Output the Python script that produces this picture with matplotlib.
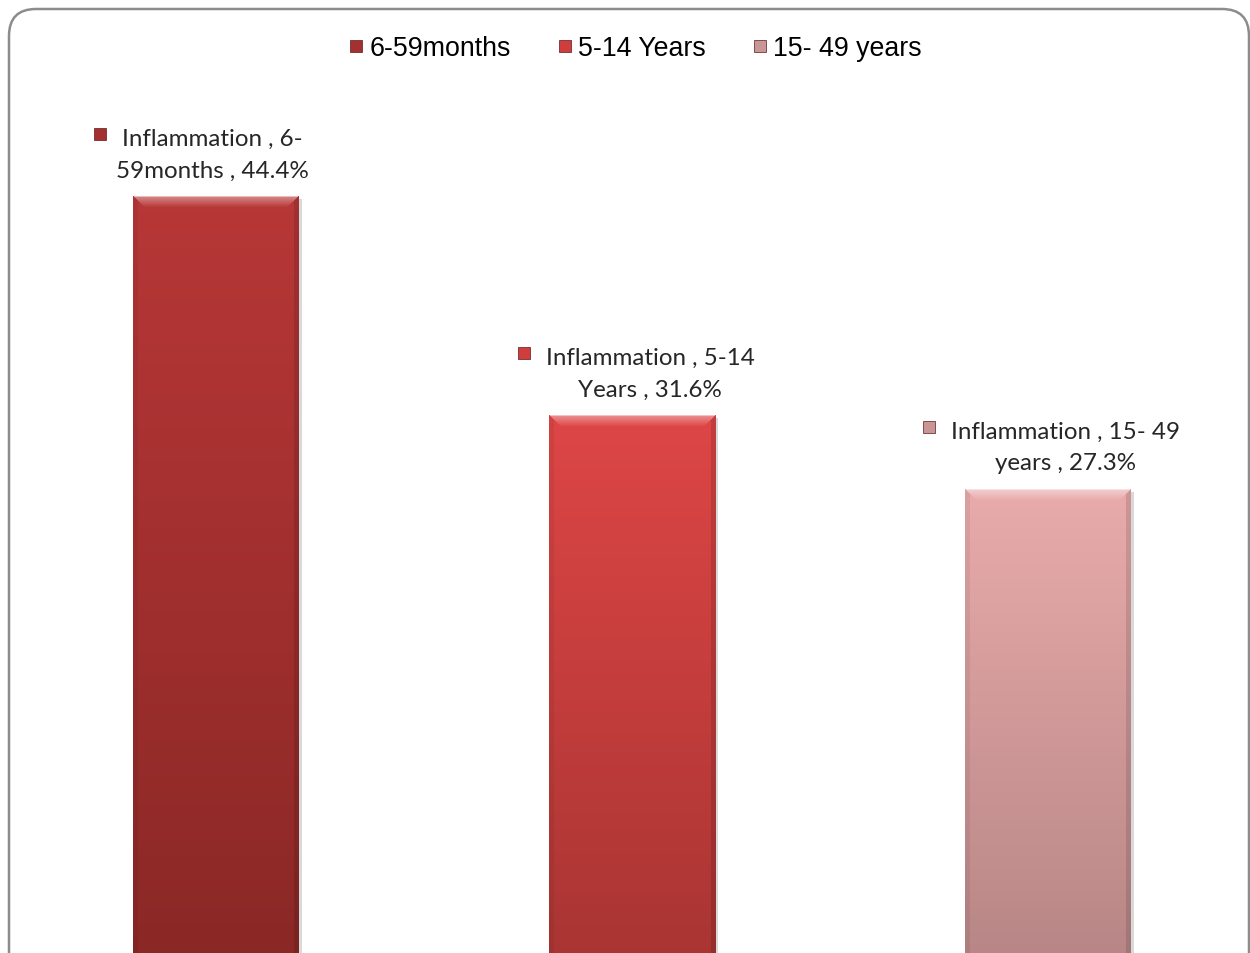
import numpy as np
import matplotlib.pyplot as plt
from matplotlib.patches import FancyBboxPatch, Rectangle
from matplotlib.lines import Line2D
from matplotlib.colors import to_rgb
import matplotlib.transforms as mtransforms

# data
groups = ["6-59months", "5-14 Years", "15- 49 years"]
values = [44.4, 31.6, 27.3]
label_line1 = ["Inflammation , 6-", "Inflammation , 5-14", "Inflammation , 15- 49"]
label_line2 = ["59months , 44.4%", "Years , 31.6%", "years , 27.3%"]

top_colors = ["#b83737", "#de4646", "#e9abab"]
bottom_colors = ["#8a2826", "#a93533", "#b88686"]
marker_colors = ["#a53030", "#cf3d3d", "#c99696"]
label_dx = [-4, 18, 17]   # label shift in pixels, like excel puts them

W, H = 1250, 954
px_per_unit_x = 416.0
px_per_unit_y = 17.13
base_px = 958.5

fig = plt.figure(figsize=(W / 100, H / 100), dpi=100)
fig.patch.set_facecolor("white")
ax = fig.add_axes([0, (H - base_px) / H, 1, base_px / H])
ax.axis("off")

x = np.arange(len(values))
bars = ax.bar(x, values, width=166 / px_per_unit_x, color=top_colors, zorder=3)


def bar_image(top, bottom, rows, cols):
    top = np.array(to_rgb(top))
    bottom = np.array(to_rgb(bottom))
    t = np.linspace(0, 1, rows)[:, None, None]
    img = top * (1 - t) + bottom * t
    img = np.repeat(img, cols, axis=1)
    r = np.arange(rows)[:, None]
    c = np.arange(cols)[None, :]
    # bevel on top
    band = 11
    f = np.clip(1 - r / band, 0, 1)
    f = np.where((r < band) & (c > r) & (cols - 1 - c > r), f, 0)
    img = img + (1 - img) * (0.4 * f)[:, :, None]
    # slightly darker sides
    side = 5
    left = (c < side) & (r > c)
    right = (cols - 1 - c < side) & (r > cols - 1 - c)
    img[np.broadcast_to(left, (rows, cols))] *= 0.94
    img[np.broadcast_to(right, (rows, cols))] *= 0.88
    img[0, 1:-1] = img[0, 1:-1] * 0.55 + 0.45
    return np.clip(img, 0, 1)


for i, b in enumerate(bars):
    bx, by = b.get_x(), b.get_y()
    bw, bh = b.get_width(), b.get_height()
    rows = int(bh * px_per_unit_y)
    img = bar_image(top_colors[i], bottom_colors[i], rows, 166)
    ax.imshow(img, extent=[bx, bx + bw, by, by + bh], origin="upper",
              aspect="auto", interpolation="bilinear", zorder=4)
    # soft shadow
    ax.add_patch(Rectangle((bx + 3 / px_per_unit_x, by), bw, bh - 2 / px_per_unit_y,
                           color="#a0a0a0", alpha=0.4, lw=0, zorder=2))

ax.set_xlim(-216 / px_per_unit_x, (W - 216) / px_per_unit_x)
ax.set_ylim(0, base_px / px_per_unit_y)

lab_font = dict(family="Lato", size=17.4, color="#262626")
first_lines = []
for i, v in enumerate(values):
    tr2 = mtransforms.offset_copy(ax.transData, fig=fig, x=label_dx[i], y=27, units="dots")
    tr1 = mtransforms.offset_copy(ax.transData, fig=fig, x=label_dx[i], y=59, units="dots")
    ax.text(i, v, label_line2[i], transform=tr2, ha="center", va="center", **lab_font)
    t1 = ax.text(i, v, label_line1[i], transform=tr1, ha="center", va="center", **lab_font)
    first_lines.append(t1)

fig.canvas.draw()
inv = fig.transFigure.inverted()
for i, t1 in enumerate(first_lines):
    ext = t1.get_window_extent()
    mx, my = inv.transform((ext.x0 - 22, (ext.y0 + ext.y1) / 2 + 4))
    fig.add_artist(Line2D([mx], [my], marker="s", markersize=9, linestyle="none",
                          markerfacecolor=marker_colors[i], markeredgecolor="#5a1a1a",
                          markeredgewidth=0.5, transform=fig.transFigure))

handles = [Line2D([], [], marker="s", linestyle="none", markersize=9,
                  markerfacecolor=c, markeredgecolor="#5a1a1a", markeredgewidth=0.5)
           for c in marker_colors]
fig.legend(handles, groups, loc="center", bbox_to_anchor=(0.508, 1 - 49 / H), ncol=3,
           frameon=False, prop={"family": "Liberation Sans", "size": 19.3},
           handlelength=0.6, handletextpad=0.2, columnspacing=1.7)

# rounded chart border
frame = FancyBboxPatch((0.09, -1.0), 12.49 - 0.09, 9.44 + 1.0,
                       boxstyle="round,pad=0,rounding_size=0.27",
                       transform=fig.dpi_scale_trans, fill=False,
                       edgecolor="#8c8c8c", lw=1.8)
fig.add_artist(frame)

fig.savefig("out.png", dpi=100)
